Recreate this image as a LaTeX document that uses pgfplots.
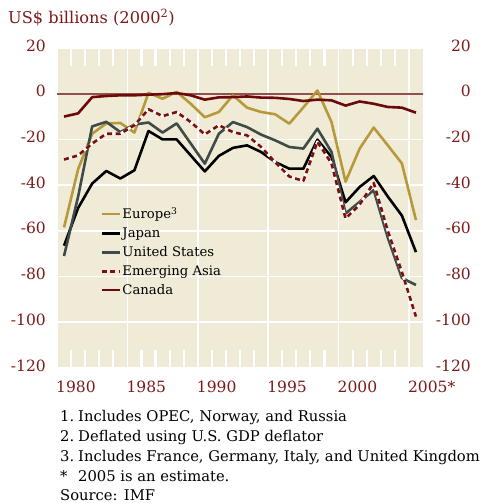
\documentclass[border=0pt]{standalone}
\usepackage{fontspec}
\setmainfont{DejaVu Serif}
\usepackage{pgfplots}
\pgfplotsset{compat=1.18}
\usepackage{pgfplotstable}
\definecolor{bg}{HTML}{F0EBD7}
\definecolor{gold}{HTML}{B8993A}
\definecolor{slate}{HTML}{3F4B47}
\definecolor{maroon}{HTML}{6B0A0A}
\definecolor{asia}{HTML}{7A1010}
\definecolor{lab}{HTML}{7B1A1A}
\definecolor{zero}{HTML}{93504F}
\definecolor{tk}{HTML}{FFFFFF}

\pgfplotstableread{
year europe japan us asia canada
1980 -58.5 -66.5 -71.0 -28.8 -10.0
1981 -33.0 -50.0 -45.0 -27.0 -8.6
1982 -17.5 -39.3 -14.3 -21.8 -1.5
1983 -13.0 -33.8 -12.3 -17.5 -1.0
1984 -12.8 -37.1 -16.8 -17.5 -0.7
1985 -17.0 -33.5 -13.5 -13.8 -0.7
1986 0.4 -16.3 -12.6 -6.8 -0.4
1987 -2.2 -20.0 -17.0 -9.8 -0.2
1988 0.8 -20.0 -13.0 -8.0 0.3
1989 -4.4 -27.0 -21.8 -12.4 -0.7
1990 -10.3 -34.0 -30.6 -17.8 -2.6
1991 -8.0 -27.2 -17.5 -13.8 -1.6
1992 -0.7 -23.7 -12.4 -16.8 -1.5
1993 -6.1 -22.6 -14.6 -18.2 -1.2
1994 -8.0 -25.5 -17.9 -23.3 -1.7
1995 -9.0 -29.9 -20.4 -30.0 -1.8
1996 -13.1 -32.8 -23.3 -36.2 -2.3
1997 -6.0 -32.8 -24.0 -38.2 -3.2
1998 1.4 -20.1 -15.3 -21.0 -2.6
1999 -12.4 -27.7 -25.5 -30.5 -2.9
2000 -38.5 -47.5 -52.4 -54.6 -5.2
2001 -24.0 -40.8 -47.3 -48.5 -3.4
2002 -14.8 -36.0 -42.2 -39.0 -4.4
2003 -22.6 -45.0 -63.0 -60.0 -5.8
2004 -30.5 -53.3 -80.6 -78.0 -6.1
2005 -55.3 -69.3 -83.7 -97.5 -8.3
}\data

\newcommand{\tickfont}{\fontsize{15.5}{18}\selectfont}
\newcommand{\notefont}{\fontsize{14.75}{18}\selectfont}

\begin{document}
\begin{tikzpicture}
\path[use as bounding box] (-57pt,-135pt) rectangle (428pt,368pt);
\begin{axis}[
  name=main, at={(0,0)}, anchor=south west,
  scale only axis, width=366pt, height=320pt,
  xmin=1980, xmax=2006, ymin=-120, ymax=20,
  axis background/.style={fill=bg},
  axis line style={draw=none},
  xtick={1980,1985,...,2005},
  xticklabels={1980,1985,1990,1995,2000,2005*},
  ytick={-120,-100,...,20},
  xmajorgrids, ymajorgrids,
  grid style={white, line width=1.6pt},
  major tick length=0pt,
  /pgf/number format/assume math mode=true,
  yticklabel={\pgfmathprintnumber[assume math mode=true]{\tick}},
  ticklabel style={font=\tickfont, text=lab, inner sep=0pt},
  xticklabel style={anchor=base west, xshift=-1pt, yshift=-24pt},
  yticklabel style={anchor=east, xshift=-11pt, yshift=2.5pt},
  legend cell align=left,
  legend style={at={(rel axis cs:0.118,0.507)}, anchor=north west,
    draw=none, fill=none, font=\fontsize{13.2}{15}\selectfont,
    row sep=4.6pt, inner sep=0pt, nodes={inner sep=1.5pt}},
  legend image code/.code={\draw[#1, line width=2.6pt] (0pt,0pt) -- (18pt,0pt);},
  every axis plot/.append style={line join=round},
]
\addplot[zero, line width=1.6pt, forget plot] coordinates {(1980,0) (2006,0)};
\addplot[gold, line width=2.6pt] table[x expr=\thisrow{year}+0.5, y=europe]{\data};
\addlegendentry{Europe\textsuperscript{3}}
\addplot[black, line width=2.6pt] table[x expr=\thisrow{year}+0.5, y=japan]{\data};
\addlegendentry{Japan}
\addplot[slate, line width=2.6pt] table[x expr=\thisrow{year}+0.5, y=us]{\data};
\addlegendentry{United States}
\addplot[white, line width=2.6pt, forget plot] table[x expr=\thisrow{year}+0.5, y=asia]{\data};
\addplot[asia, line width=2.6pt, dash pattern=on 5pt off 3.5pt] table[x expr=\thisrow{year}+0.5, y=asia]{\data};
\addlegendentry{Emerging Asia}
\addplot[maroon, line width=2.6pt] table[x expr=\thisrow{year}+0.5, y=canada]{\data};
\addlegendentry{Canada}
\end{axis}
\begin{axis}[
  at={(0,0)}, anchor=south west,
  scale only axis, width=366pt, height=320pt,
  xmin=1980, xmax=2006, ymin=-120, ymax=20,
  hide x axis, axis y line*=right,
  axis line style={draw=none},
  ytick={-120,-100,...,20},
  major tick length=0pt,
  /pgf/number format/assume math mode=true,
  yticklabel={\pgfmathprintnumber[assume math mode=true]{\tick}},
  yticklabel style={font=\tickfont, text=lab, inner sep=0pt, anchor=east, xshift=48pt, yshift=2.5pt},
]
\end{axis}
\foreach \x in {14.08,28.15,42.23,56.31,84.46,98.54,112.62,126.69,154.85,168.92,183.0,197.08,225.23,239.31,253.38,267.46,295.62,309.69,323.77,337.85} {
  \fill[tk] (\x pt-1.1pt,0pt) rectangle (\x pt+1.1pt,18pt);
  \fill[tk] (\x pt-1.1pt,302pt) rectangle (\x pt+1.1pt,320pt);
}
\node[anchor=base west, inner sep=0pt, text=lab, font=\fontsize{16.2}{18}\selectfont] at (-49pt,344.7pt) {US\$ billions (2000\textsuperscript{2})};
\node[anchor=base west, inner sep=0pt, font=\notefont] at (3pt,-53pt) {\makebox[18pt][l]{1.}Includes OPEC, Norway, and Russia};
\node[anchor=base west, inner sep=0pt, font=\notefont] at (3pt,-73.2pt) {\makebox[18pt][l]{2.}Deflated using U.S. GDP deflator};
\node[anchor=base west, inner sep=0pt, font=\notefont] at (3pt,-93.2pt) {\makebox[18pt][l]{3.}Includes France, Germany, Italy, and United Kingdom};
\node[anchor=base west, inner sep=0pt, font=\notefont] at (3pt,-113pt) {\makebox[18pt][l]{*}2005 is an estimate.};
\node[anchor=base west, inner sep=0pt, font=\notefont] at (3pt,-132.3pt) {Source: IMF};
\end{tikzpicture}
\end{document}
